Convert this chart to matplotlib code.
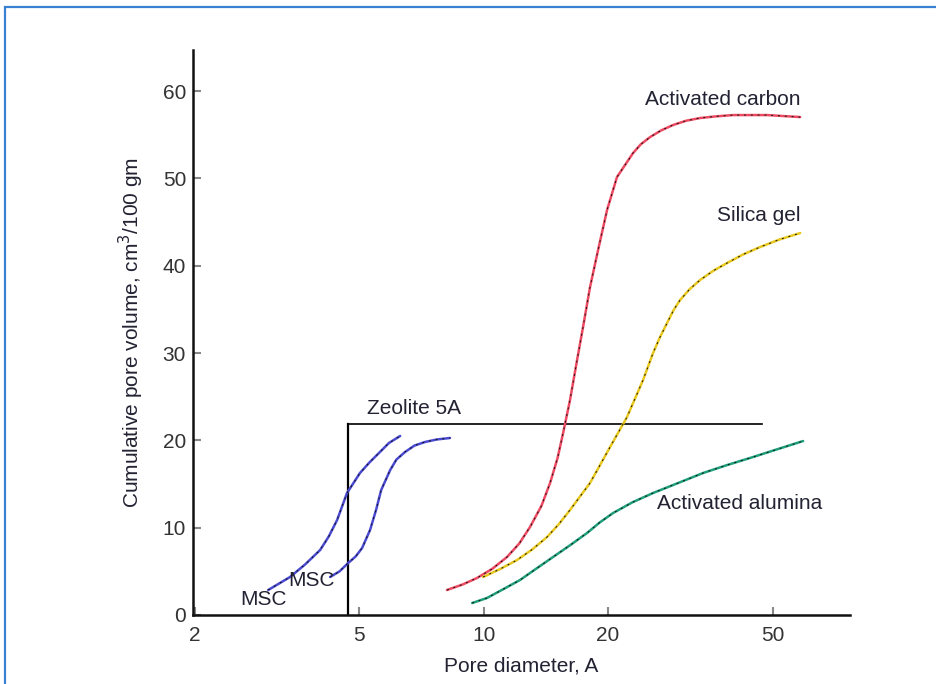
import matplotlib
matplotlib.use("Agg")
import matplotlib.pyplot as plt
from matplotlib.patches import Rectangle

plt.rcParams['font.family'] = ['Liberation Sans', 'DejaVu Sans']

# pore diameter (A) vs cumulative pore volume (cm3/100 gm)
msc1_x = [3.01, 3.40, 3.70, 4.02, 4.22, 4.42, 4.67, 5.02, 5.30, 5.61, 5.90, 6.28]
msc1_y = [2.86, 4.35, 5.80, 7.44, 9.00, 10.88, 13.97, 16.26, 17.50, 18.66, 19.70, 20.50]

msc2_x = [4.25, 4.48, 4.70, 4.90, 5.08, 5.31, 5.49, 5.65, 5.94, 6.15, 6.45, 6.80,
          7.21, 7.70, 8.29]
msc2_y = [4.35, 5.00, 5.95, 6.70, 7.67, 9.73, 12.02, 14.31, 16.60, 17.80, 18.66,
          19.40, 19.81, 20.10, 20.27]

carbon_x = [8.15, 8.90, 9.64, 10.50, 11.39, 12.20, 12.95, 13.80, 14.48, 15.10,
            15.57, 16.18, 16.83, 17.40, 18.09, 18.92, 19.89, 21.02, 22.99, 24.00,
            25.28, 26.90, 28.73, 30.90, 33.40, 36.50, 40.14, 48.53, 58.33]
carbon_y = [2.86, 3.50, 4.24, 5.30, 6.64, 8.20, 10.08, 12.50, 15.12, 18.00,
            20.84, 24.62, 29.20, 32.98, 37.56, 41.80, 46.38, 50.15, 52.90, 53.90,
            54.73, 55.50, 56.11, 56.60, 56.91, 57.10, 57.25, 57.25, 57.02]

silica_x = [9.97, 11.00, 12.05, 13.10, 14.24, 15.20, 16.18, 18.09, 20.23, 22.23,
            24.31, 25.70, 26.70, 27.79, 28.80, 29.88, 31.50, 33.40, 35.90, 38.82,
            42.50, 46.67, 52.00, 58.33]
silica_y = [4.35, 5.30, 6.30, 7.50, 8.93, 10.40, 12.02, 15.12, 19.24, 22.67,
            26.91, 30.00, 31.80, 33.44, 34.90, 36.07, 37.30, 38.36, 39.40, 40.31,
            41.30, 42.14, 43.00, 43.74]

alumina_x = [9.38, 10.19, 11.20, 12.25, 13.40, 14.72, 16.20, 17.79, 19.10, 20.57,
             22.90, 25.70, 29.50, 33.96, 39.00, 44.87, 51.50, 59.29]
alumina_y = [1.37, 1.95, 3.00, 4.01, 5.30, 6.64, 8.00, 9.39, 10.60, 11.68,
             12.90, 13.97, 15.10, 16.26, 17.20, 18.09, 19.00, 19.92]

# Zeolite 5A bracket
zeo_x0, zeo_x1, zeo_y = 4.70, 47.2, 21.9

xticks = [2, 5, 10, 20, 50]
yticks = [0, 10, 20, 30, 40, 50, 60]

fig = plt.figure(figsize=(9.36, 6.84), dpi=100)
ax = fig.add_axes([193 / 936, 69 / 684, (850 - 193) / 936, (634 - 69) / 684])

curves = [
    (msc1_x, msc1_y, '#4a4ad0'),
    (msc2_x, msc2_y, '#4a4ad0'),
    (carbon_x, carbon_y, '#ec4a62'),
    (silica_x, silica_y, '#e8c820'),
    (alumina_x, alumina_y, '#1f9e7a'),
]
for xs, ys, c in curves:
    ax.plot(xs, ys, color=c, lw=1.8, solid_capstyle='round',
            solid_joinstyle='round', zorder=3)
    ax.plot(xs, ys, color='#111111', lw=0.7, dashes=(2, 5), zorder=4)

ax.plot([zeo_x0, zeo_x0], [0, zeo_y], color='black', lw=1.6, zorder=2)
ax.plot([zeo_x0, zeo_x1], [zeo_y, zeo_y], color='black', lw=1.2, zorder=2)

txt = dict(fontsize=15, color='#222233')
ax.text(58.3, 59.0, 'Activated carbon', ha='right', va='center', **txt)
ax.text(58.3, 45.7, 'Silica gel', ha='right', va='center', **txt)
ax.text(5.22, 23.6, 'Zeolite 5A', ha='left', va='center', **txt)
ax.text(26.3, 12.8, 'Activated alumina', ha='left', va='center', **txt)
ax.text(2.57, 1.72, 'MSC', ha='left', va='center', **txt)
ax.text(3.36, 4.0, 'MSC', ha='left', va='center', **txt)

ax.set_xscale('log')
ax.set_xlim(1.98, 77)
ax.set_ylim(0, 64.7)
ax.set_xticks(xticks)
ax.set_xticklabels([str(t) for t in xticks])
ax.minorticks_off()
ax.set_yticks(yticks)

for s in ['top', 'right']:
    ax.spines[s].set_visible(False)
for s in ['left', 'bottom']:
    ax.spines[s].set_linewidth(1.8)
    ax.spines[s].set_color('#111111')

ax.tick_params(axis='both', direction='in', length=6, width=1.5, color='#888888',
               labelsize=15, labelcolor='#333333')
ax.tick_params(axis='y', pad=5)
ax.tick_params(axis='x', pad=8)

ax.set_xlabel('Pore diameter, A', fontsize=15, color='#222233', labelpad=8)
ax.set_ylabel('Cumulative pore volume, cm$^3$/100 gm', fontsize=15,
              color='#222233', labelpad=12)

# blue frame round the picture
fig.add_artist(Rectangle((5 / 936, -0.1), 1.2, 1 - 7 / 684 + 0.1,
                         transform=fig.transFigure, fill=False,
                         edgecolor='#3a80d2', lw=1.6))

fig.savefig('out.png', dpi=100)
